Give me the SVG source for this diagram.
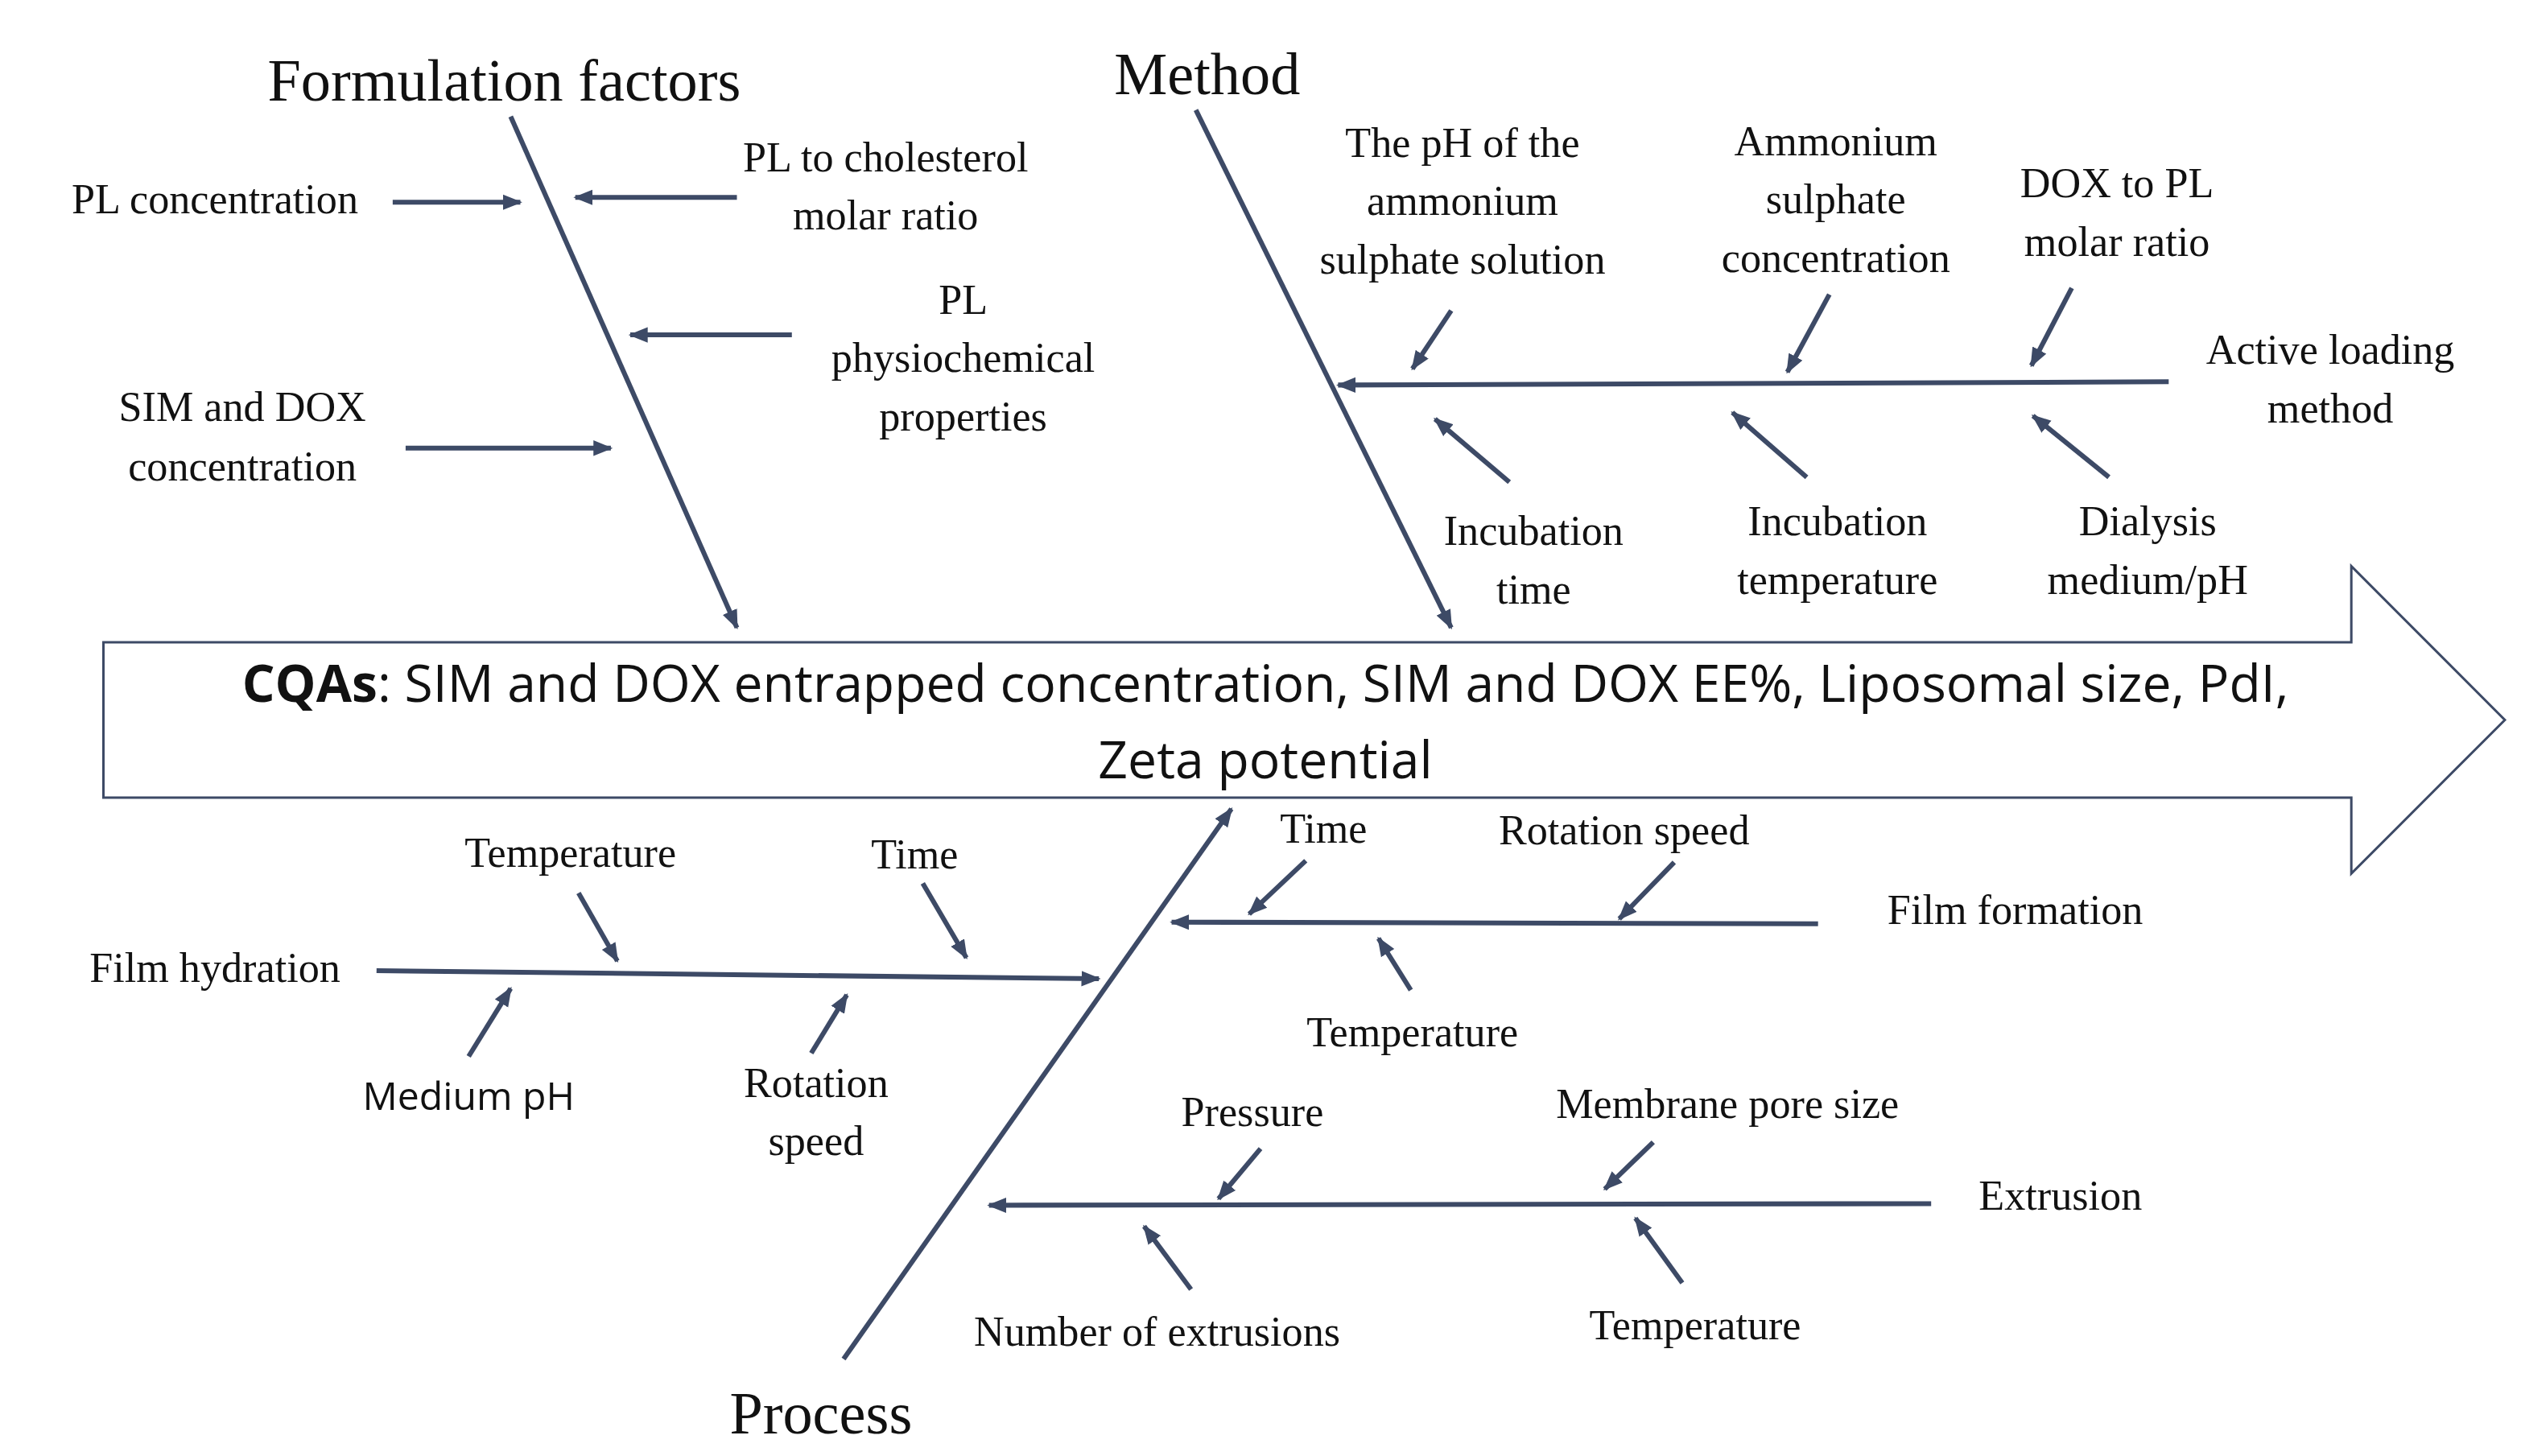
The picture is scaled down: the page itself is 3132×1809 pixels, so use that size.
<svg xmlns="http://www.w3.org/2000/svg" width="3132" height="1809" viewBox="0 0 3132 1809">
<style>
.t{font-family:"Liberation Serif",serif;font-size:26px;fill:#111;text-anchor:middle}
.h{font-family:"Liberation Serif",serif;font-size:37px;fill:#111;text-anchor:middle}
.s{font-family:"Open Sans","Noto Sans",sans-serif;fill:#111;text-anchor:middle}
.l{stroke:#3d4a66;stroke-width:3;fill:none;marker-end:url(#a)}
.m{stroke:#3d4a66;stroke-width:3;fill:none}
</style>
<defs>
<marker id="a" viewBox="0 0 10 10" refX="9" refY="5" markerWidth="4" markerHeight="4" orient="auto" markerUnits="strokeWidth"><path d="M0,1 L10,5 L0,9 z" fill="#3d4a66"/></marker>
</defs>
<rect width="3132" height="1809" fill="#fff"/>
<g transform="scale(2.0077,2.01)">
<g id="cqa">
<path d="M64,397 H1455 V350 L1550,445 L1455,540 V493 H64 Z" fill="#fff" stroke="#3d4a66" stroke-width="1.5"/>
<text class="s" x="783" y="434" font-size="32"><tspan font-weight="bold">CQAs</tspan>: SIM and DOX entrapped concentration, SIM and DOX EE%, Liposomal size, PdI,</text>
<text class="s" x="783" y="481" font-size="32">Zeta potential</text>
</g>
<g id="connectors">
<line class="l" x1="316" y1="72" x2="456" y2="388"/>
<line class="l" x1="740" y1="68" x2="898" y2="388"/>
<line class="l" x1="522" y1="840" x2="762" y2="500"/>
<line class="l" x1="243" y1="125" x2="322" y2="125"/>
<line class="l" x1="456" y1="122" x2="356" y2="122"/>
<line class="l" x1="490" y1="207" x2="390" y2="207"/>
<line class="l" x1="251" y1="277" x2="378" y2="277"/>
<line class="l" x1="1342" y1="236" x2="828" y2="238"/>
<line class="l" x1="898" y1="192" x2="874" y2="228"/>
<line class="l" x1="1132" y1="182" x2="1106" y2="230"/>
<line class="l" x1="1282" y1="178" x2="1257" y2="226"/>
<line class="l" x1="934" y1="298" x2="888" y2="259"/>
<line class="l" x1="1118" y1="295" x2="1072" y2="255"/>
<line class="l" x1="1305" y1="295" x2="1258" y2="257"/>
<line class="l" x1="1125" y1="571" x2="725" y2="570"/>
<line class="l" x1="808" y1="532" x2="773" y2="565"/>
<line class="l" x1="1036" y1="533" x2="1002" y2="568"/>
<line class="l" x1="873" y1="612" x2="853" y2="580"/>
<line class="l" x1="233" y1="600" x2="680" y2="605"/>
<line class="l" x1="358" y1="552" x2="382" y2="594"/>
<line class="l" x1="571" y1="546" x2="598" y2="592"/>
<line class="l" x1="290" y1="653" x2="316" y2="611"/>
<line class="l" x1="502" y1="651" x2="524" y2="615"/>
<line class="l" x1="1195" y1="744" x2="612" y2="745"/>
<line class="l" x1="780" y1="710" x2="754" y2="741"/>
<line class="l" x1="1023" y1="706" x2="993" y2="735"/>
<line class="l" x1="737" y1="797" x2="708" y2="758"/>
<line class="l" x1="1041" y1="793" x2="1012" y2="753"/>
</g>
<g id="formulation">
<text class="h" x="312" y="62">Formulation  factors</text>
<text class="t" x="133" y="132">PL concentration</text>
<text class="t" x="548" y="106">PL to cholesterol</text><text class="t" x="548" y="142">molar ratio</text>
<text class="t" x="596" y="194">PL</text><text class="t" x="596" y="230">physiochemical</text><text class="t" x="596" y="266">properties</text>
<text class="t" x="150" y="260">SIM and DOX</text><text class="t" x="150" y="297">concentration</text>
</g>
<g id="method">
<text class="h" x="747" y="58">Method</text>
<text class="t" x="905" y="97">The pH of the</text><text class="t" x="905" y="133">ammonium</text><text class="t" x="905" y="169">sulphate solution</text>
<text class="t" x="1136" y="96">Ammonium</text><text class="t" x="1136" y="132">sulphate</text><text class="t" x="1136" y="168">concentration</text>
<text class="t" x="1310" y="122">DOX to PL</text><text class="t" x="1310" y="158">molar ratio</text>
<text class="t" x="1442" y="225">Active loading</text><text class="t" x="1442" y="261">method</text>
<text class="t" x="949" y="337">Incubation</text><text class="t" x="949" y="373">time</text>
<text class="t" x="1137" y="331">Incubation</text><text class="t" x="1137" y="367">temperature</text>
<text class="t" x="1329" y="331">Dialysis</text><text class="t" x="1329" y="367">medium/pH</text>
</g>
<g id="process">
<text class="h" x="508" y="886">Process</text>
<text class="t" x="1247" y="571">Film formation</text>
<text class="t" x="819" y="521">Time</text>
<text class="t" x="1005" y="522">Rotation speed</text>
<text class="t" x="874" y="647">Temperature</text>
<text class="t" x="133" y="607">Film hydration</text>
<text class="t" x="353" y="536">Temperature</text>
<text class="t" x="566" y="537">Time</text>
<text class="s" x="290" y="686" font-size="24">Medium pH</text>
<text class="t" x="505" y="678">Rotation</text><text class="t" x="505" y="714">speed</text>
<text class="t" x="1275" y="748">Extrusion</text>
<text class="t" x="775" y="696">Pressure</text>
<text class="t" x="1069" y="691">Membrane pore size</text>
<text class="t" x="716" y="832">Number of extrusions</text>
<text class="t" x="1049" y="828">Temperature</text>
</g>
</g>
</svg>
